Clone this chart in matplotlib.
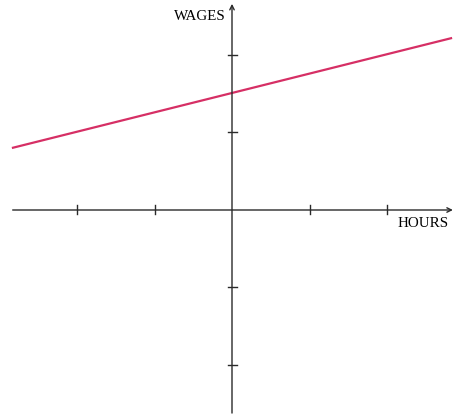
import matplotlib.pyplot as plt

# wage line (hours, wages) in axis units
hours = [-2.84, 2.84]
wages = [0.80, 2.22]

x_ticks = [-2, -1, 1, 2]
y_ticks = [-2, -1, 1, 2]

unit = 77.5  # pixels per unit
fig = plt.figure(figsize=(4.54, 4.15), dpi=100)
ax = fig.add_axes([0, 0, 1, 1])
ax.set_xlim(-232 / unit, (454 - 232) / unit)
ax.set_ylim(-(415 - 210) / unit, 210 / unit)
ax.axis("off")

axis_col = "#2a2a2a"
# axes with arrow heads
ax.annotate("", xy=(2.85, 0), xytext=(-2.83, 0),
            arrowprops=dict(arrowstyle="->", color=axis_col, lw=1.0,
                            shrinkA=0, shrinkB=0, mutation_scale=8))
ax.annotate("", xy=(0, 2.66), xytext=(0, -2.62),
            arrowprops=dict(arrowstyle="->", color=axis_col, lw=1.0,
                            shrinkA=0, shrinkB=0, mutation_scale=8))

t = 4.5 / unit
for xt in x_ticks:
    ax.plot([xt, xt], [-t, t], color=axis_col, lw=1.0)
for yt in y_ticks:
    ax.plot([-t, t], [yt, yt], color=axis_col, lw=1.0)

ax.plot(hours, wages, color="#d62f65", lw=1.6, solid_capstyle="butt")

ax.text(-0.08, 2.50, "WAGES", ha="right", va="center",
        family="Liberation Serif", fontsize=10.8)
ax.text(2.46, -0.18, "HOURS", ha="center", va="center",
        family="Liberation Serif", fontsize=10.8)

fig.savefig("out.png", dpi=100)
